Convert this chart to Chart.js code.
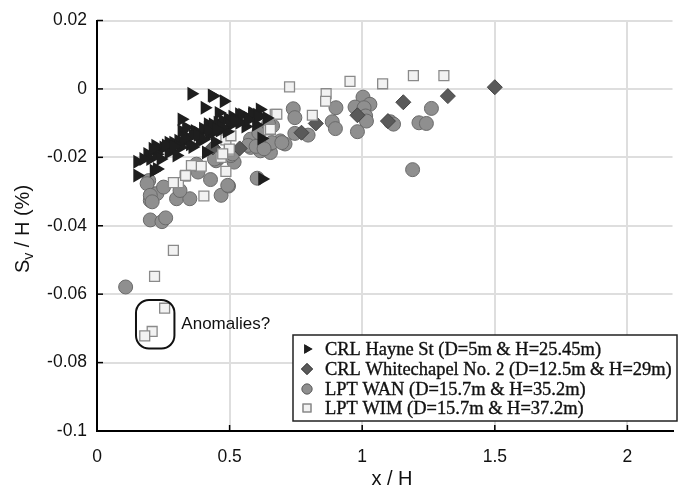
<!DOCTYPE html>
<html>
<head>
<meta charset="utf-8">
<script src="https://cdn.jsdelivr.net/npm/chart.js@4/dist/chart.umd.min.js"></script>
<style>
html,body{margin:0;padding:0;background:#fff;}
#wrap{width:681px;height:495px;position:relative;}
</style>
</head>
<body>
<div id="wrap"><canvas id="c" width="681" height="495"></canvas></div>
<script>
// ---- data ----
const seriesNames = [
  "CRL Hayne St (D=5m & H=25.45m)",
  "CRL Whitechapel No. 2 (D=12.5m & H=29m)",
  "LPT WAN (D=15.7m & H=35.2m)",
  "LPT WIM (D=15.7m & H=37.2m)"
];
const xTicks = [0, 0.5, 1, 1.5, 2];
const xTickLabels = ["0", "0.5", "1", "1.5", "2"];
const yTicks = [-0.1, -0.08, -0.06, -0.04, -0.02, 0, 0.02];
const yTickLabels = ["-0.1", "-0.08", "-0.06", "-0.04", "-0.02", "0", "0.02"];

const hayneX = [0.356,0.433,0.478,0.406,0.459,0.319,0.536,0.585,0.614,0.418,0.369,0.319,0.27,0.22,0.201,0.152,0.152,0.214,0.226,0.623,0.232,0.251,0.288,0.307,0.325,0.344,0.362,0.381,0.400,0.418,0.437,0.455,0.474,0.493,0.511,0.530,0.548,0.567,0.586,0.604,0.277,0.314,0.351,0.388,0.426,0.463,0.5,0.537,0.336,0.27,0.225,0.411,0.437,0.62,0.19,0.175,0.24,0.3,0.36,0.56,0.6,0.64,0.445,0.49,0.26,0.29,0.33,0.38,0.42,0.47,0.52,0.57,0.61,0.21,0.4,0.45];
const hayneY = [-0.0014,-0.0019,-0.0036,-0.0055,-0.0070,-0.0089,-0.0074,-0.0074,-0.0060,-0.0103,-0.0123,-0.0123,-0.0157,-0.0166,-0.0205,-0.0213,-0.0253,-0.0239,-0.0234,-0.0263,-0.018,-0.0171,-0.0157,-0.0151,-0.0157,-0.0142,-0.0136,-0.0128,-0.0116,-0.0113,-0.0104,-0.0099,-0.0093,-0.0087,-0.0081,-0.0093,-0.0075,-0.0084,-0.0070,-0.0075,-0.018,-0.0171,-0.0162,-0.0151,-0.0133,-0.0122,-0.0107,-0.0099,-0.0113,-0.0186,-0.0191,-0.0186,-0.0021,-0.0145,-0.019,-0.0205,-0.0205,-0.0195,-0.017,-0.011,-0.0105,-0.0085,-0.0155,-0.0125,-0.0165,-0.0168,-0.0145,-0.0135,-0.0122,-0.0112,-0.0095,-0.0091,-0.0082,-0.0175,-0.0148,-0.0118];

const whiteX = [0.437,0.538,1.155,1.323,1.5,0.982,0.825,0.771,1.097];
const whiteY = [-0.0171,-0.0174,-0.0039,-0.0021,0.0005,-0.0077,-0.0101,-0.0128,-0.0094];

const wanX = [0.195,0.208,0.226,0.251,0.201,0.300,0.350,0.313,0.381,0.428,0.468,0.496,0.449,0.517,0.505,0.579,0.579,0.610,0.616,0.654,0.651,0.662,0.691,0.709,0.189,0.201,0.208,0.201,0.245,0.259,0.108,0.493,0.604,0.74,0.746,0.746,0.796,0.901,0.887,0.899,1.003,0.973,1.029,1.007,1.013,1.016,0.982,1.106,1.118,1.261,1.214,1.242,1.19,0.647,0.66,0.697,0.511,0.462,0.443,0.375,0.57,0.6,0.63];
const wanY = [-0.0268,-0.0306,-0.0306,-0.0287,-0.0326,-0.0321,-0.0321,-0.0297,-0.0243,-0.0265,-0.0311,-0.0284,-0.021,-0.0214,-0.0195,-0.0147,-0.0171,-0.0128,-0.0181,-0.0186,-0.0161,-0.0108,-0.0152,-0.0161,-0.0277,-0.0311,-0.033,-0.0383,-0.0388,-0.0377,-0.0579,-0.0282,-0.0261,-0.0058,-0.0084,-0.013,-0.0135,-0.0055,-0.0096,-0.0116,-0.0024,-0.0053,-0.0045,-0.0055,-0.0079,-0.0094,-0.0125,-0.0096,-0.0103,-0.0057,-0.0099,-0.0101,-0.0236,-0.0103,-0.0157,-0.0157,-0.019,-0.02,-0.0205,-0.022,-0.0165,-0.0168,-0.0175];

const wimX = [0.288,0.217,0.255,0.208,0.18,0.403,0.672,0.647,0.726,0.486,0.499,0.468,0.393,0.356,0.486,0.332,0.307,0.288,0.334,0.505,0.499,0.474,0.654,0.678,0.812,0.864,0.862,0.954,1.077,1.193,1.308];
const wimY = [-0.0472,-0.0548,-0.0641,-0.0709,-0.0722,-0.0313,-0.0074,-0.012,0.0006,-0.0149,-0.0181,-0.02,-0.0226,-0.0224,-0.0241,-0.0255,-0.0274,-0.0274,-0.0253,-0.0137,-0.0176,-0.019,-0.0118,-0.0074,-0.0077,-0.0014,-0.0036,0.0022,0.0015,0.0039,0.0039];

const annotationText = "Anomalies?";
const anomalyBox = {x0: 0.147, x1: 0.292, y0: -0.0617, y1: -0.0759};
const annotationPos = {x: 0.318, y: -0.0687};

// ---- helpers ----
const pts = (xs, ys) => xs.map((x, i) => ({x: x, y: ys[i]}));

const styles = [
  {pointStyle: 'triangle', rotation: 90, bg: '#1e1e1e', border: '#1e1e1e', r: 8, bw: 0, lr: 5.5},
  {pointStyle: 'rectRot', rotation: 0, bg: '#5a5a5a', border: '#444', r: 7.5, bw: 1, lr: 5.5},
  {pointStyle: 'circle', rotation: 0, bg: '#8f8f8f', border: '#6a6a6a', r: 7, bw: 1, lr: 5},
  {pointStyle: 'rect', rotation: 0, bg: '#f2f2f2', border: '#8a8a8a', r: 7, bw: 1.3, lr: 5.5}
];
const seriesData = [pts(hayneX, hayneY), pts(whiteX, whiteY), pts(wanX, wanY), pts(wimX, wimY)];
const orders = [0, 2, 3, 1];

const datasets = seriesNames.map((name, i) => ({
  label: name,
  data: seriesData[i],
  pointStyle: styles[i].pointStyle,
  rotation: styles[i].rotation,
  backgroundColor: styles[i].bg,
  borderColor: styles[i].border,
  borderWidth: styles[i].bw,
  pointRadius: styles[i].r,
  order: orders[i]
}));

function drawMarker(ctx, i, x, y) {
  const s = styles[i];
  Chart.helpers.drawPoint(ctx, {pointStyle: s.pointStyle, rotation: s.rotation, radius: s.lr, borderWidth: s.bw}, x, y);
  ctx.fill();
  if (s.bw) ctx.stroke();
}

const SANS = '"Liberation Sans", Arial, sans-serif';

const decor = {
  id: 'decor',
  beforeDatasetsDraw(chart) {
    const ctx = chart.ctx, xs = chart.scales.x, ys = chart.scales.y, a = chart.chartArea;
    ctx.save();
    ctx.strokeStyle = '#000';
    ctx.lineWidth = 1.5;
    xTicks.forEach(v => {
      const px = xs.getPixelForValue(v);
      ctx.beginPath(); ctx.moveTo(px, a.bottom); ctx.lineTo(px, a.bottom - 6); ctx.stroke();
    });
    yTicks.forEach(v => {
      const py = ys.getPixelForValue(v);
      ctx.beginPath(); ctx.moveTo(a.left, py); ctx.lineTo(a.left + 6, py); ctx.stroke();
    });
    ctx.restore();
  },
  afterDraw(chart) {
    const ctx = chart.ctx, xs = chart.scales.x, ys = chart.scales.y, a = chart.chartArea;
    ctx.save();
    // axis titles
    ctx.fillStyle = '#111';
    ctx.font = '20px ' + SANS;
    ctx.textAlign = 'center';
    ctx.textBaseline = 'middle';
    ctx.fillText('x / H', 392, 479);
    // y title with subscript
    ctx.save();
    ctx.translate(22, 229);
    ctx.rotate(-Math.PI / 2);
    const p1 = 'S', p2 = 'v', p3 = ' / H (%)';
    ctx.font = '20px ' + SANS;
    const w1 = ctx.measureText(p1).width, w3 = ctx.measureText(p3).width;
    ctx.font = '14px ' + SANS;
    const w2 = ctx.measureText(p2).width;
    let sx = -(w1 + w2 + w3) / 2;
    ctx.textAlign = 'left';
    ctx.textBaseline = 'alphabetic';
    ctx.font = '20px ' + SANS;
    ctx.fillText(p1, sx, 7);
    ctx.font = '14px ' + SANS;
    ctx.fillText(p2, sx + w1, 11);
    ctx.font = '20px ' + SANS;
    ctx.fillText(p3, sx + w1 + w2, 7);
    ctx.restore();

    // anomaly box
    const bx0 = xs.getPixelForValue(anomalyBox.x0), bx1 = xs.getPixelForValue(anomalyBox.x1);
    const by0 = ys.getPixelForValue(anomalyBox.y0), by1 = ys.getPixelForValue(anomalyBox.y1);
    ctx.strokeStyle = '#111';
    ctx.lineWidth = 2;
    ctx.beginPath();
    ctx.roundRect(bx0, by0, bx1 - bx0, by1 - by0, 13);
    ctx.stroke();
    ctx.fillStyle = '#111';
    ctx.font = '17px ' + SANS;
    ctx.textAlign = 'left';
    ctx.textBaseline = 'middle';
    ctx.fillText(annotationText, xs.getPixelForValue(annotationPos.x), ys.getPixelForValue(annotationPos.y));

    // legend
    const lx0 = 293, ly0 = 335, lx1 = 677, ly1 = 421;
    ctx.fillStyle = '#fff';
    ctx.fillRect(lx0, ly0, lx1 - lx0, ly1 - ly0);
    ctx.strokeStyle = '#222';
    ctx.lineWidth = 1.5;
    ctx.strokeRect(lx0, ly0, lx1 - lx0, ly1 - ly0);
    let fs = 17;
    const SERIF = '"Liberation Serif", "DejaVu Serif", serif';
    ctx.font = fs + 'px ' + SERIF;
    const maxW = Math.max(...seriesNames.map(n => ctx.measureText(n).width));
    fs = fs * 347 / maxW;
    ctx.font = fs.toFixed(2) + 'px ' + SERIF;
    const rowY = [349, 369, 389, 408];
    seriesNames.forEach((n, i) => {
      const s = styles[i];
      ctx.fillStyle = s.bg; ctx.strokeStyle = s.border; ctx.lineWidth = s.bw || 1;
      drawMarker(ctx, i, 307, rowY[i]);
      ctx.fillStyle = '#111';
      ctx.textAlign = 'left';
      ctx.textBaseline = 'middle';
      ctx.fillText(n, 325, rowY[i] + 1);
      ctx.strokeStyle = '#111'; ctx.lineWidth = 0.35;
      ctx.strokeText(n, 325, rowY[i] + 1);
    });
    ctx.restore();
  }
};

new Chart(document.getElementById('c'), {
  type: 'scatter',
  data: {datasets: datasets},
  options: {
    responsive: false,
    animation: false,
    events: [],
    layout: {padding: {top: 17, right: 0, left: 0, bottom: 0}},
    plugins: {legend: {display: false}, tooltip: {enabled: false}},
    scales: {
      x: {
        type: 'linear', min: 0, max: 2.17,
        afterBuildTicks: s => { s.ticks = xTicks.map(v => ({value: v})); },
        afterFit: s => { s.height = 64; },
        grid: {color: '#dedede', lineWidth: 2, drawTicks: false},
        border: {color: '#000', width: 2},
        ticks: {padding: 16, color: '#111', font: {family: SANS, size: 17.5},
                callback: (v, i) => xTickLabels[i], maxRotation: 0}
      },
      y: {
        type: 'linear', min: -0.1, max: 0.02,
        afterBuildTicks: s => { s.ticks = yTicks.map(v => ({value: v})); },
        afterFit: s => { s.width = 97; },
        grid: {color: '#dedede', lineWidth: 2, drawTicks: false},
        border: {color: '#000', width: 2},
        ticks: {padding: 10, color: '#111', font: {family: SANS, size: 17.5},
                callback: (v, i) => yTickLabels[i]}
      }
    }
  },
  plugins: [decor]
});
</script>
</body>
</html>
